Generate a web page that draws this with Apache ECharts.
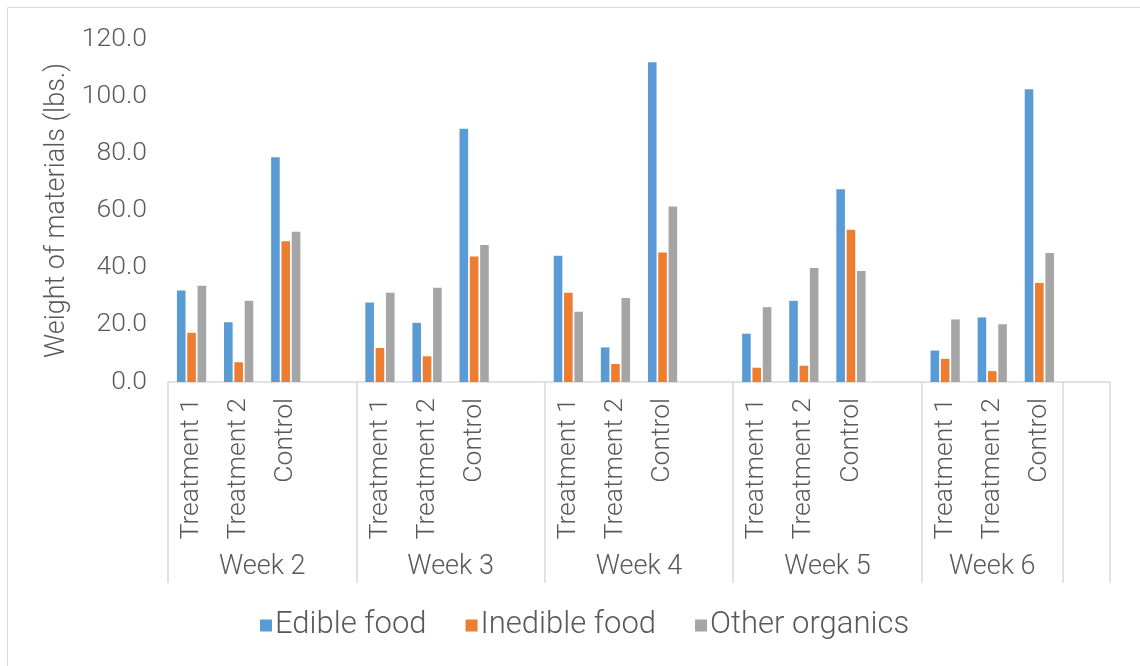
<!DOCTYPE html>
<html>
<head>
<meta charset="utf-8">
<title>Weight of materials by week</title>
<script src="https://cdn.jsdelivr.net/npm/echarts@6/dist/echarts.min.js"></script>
<style>
  html, body { margin: 0; padding: 0; background: #fff; }
  #chart { width: 1140px; height: 666px; }
</style>
</head>
<body>
<div id="chart"></div>
<script>
// Weeks and treatments shown along the two-level category axis
const weeks = ['Week 2', 'Week 3', 'Week 4', 'Week 5', 'Week 6'];
const treatments = ['Treatment 1', 'Treatment 2', 'Control'];

// Weight (lbs.) per week, in order Treatment 1, Treatment 2, Control
const edibleFood = [
  [32.0, 20.9, 78.6],
  [27.8, 20.7, 88.6],
  [44.2, 12.1, 111.9],
  [16.9, 28.4, 67.4],
  [11.0, 22.6, 102.4]
];
const inedibleFood = [
  [17.2, 6.9, 49.2],
  [11.9, 9.0, 43.9],
  [31.2, 6.3, 45.3],
  [5.0, 5.7, 53.3],
  [8.1, 3.8, 34.6]
];
const otherOrganics = [
  [33.7, 28.4, 52.6],
  [31.2, 33.0, 47.9],
  [24.6, 29.4, 61.4],
  [26.2, 39.9, 38.8],
  [21.9, 20.2, 45.1]
];

const yTicks = { min: 0, max: 120, interval: 20 };

// Each week: three treatments followed by an empty spacer slot
const categories = [];
weeks.forEach(() => { treatments.forEach(t => categories.push(t)); categories.push(''); });

function flatten(rows) {
  const out = [];
  rows.forEach(r => { r.forEach(v => out.push(v)); out.push(null); });
  return out;
}

// Group boundaries of the outer (week) level, in slot units
const perWeek = treatments.length + 1;
const bounds = [];
const centers = [];
weeks.forEach((w, i) => {
  const start = i * perWeek;
  const end = i === weeks.length - 1 ? start + treatments.length : start + perWeek;
  bounds.push(start);
  centers.push((start + end) / 2);
  if (i === weeks.length - 1) { bounds.push(end); }
});
bounds.push(categories.length);

const FONT = 'Roboto';
const TEXT = '#595959';
const LINE = '#d9d9d9';

const chart = echarts.init(document.getElementById('chart'), null, { renderer: 'canvas' });

const barStyle = (color) => ({
  type: 'bar',
  barWidth: 8.6,
  barGap: '20%',
  itemStyle: { color: color },
  emphasis: { disabled: true }
});

chart.setOption({
  animation: false,
  backgroundColor: '#ffffff',
  textStyle: { fontFamily: FONT, fontWeight: 300, color: TEXT },
  graphic: [{
    type: 'rect',
    shape: { x: 7.5, y: 7.5, width: 1200, height: 700 },
    style: { fill: null, stroke: LINE, lineWidth: 1 },
    silent: true,
    z: -1
  }],
  grid: { left: 168, right: 30, top: 39, bottom: 284, containLabel: false },
  legend: {
    left: 255,
    top: 605,
    itemWidth: 12,
    itemHeight: 12,
    itemGap: 39,
    icon: 'rect',
    textStyle: { fontFamily: FONT, fontWeight: 300, fontSize: 31, color: TEXT, padding: [0, 0, 0, -2] },
    data: ['Edible food', 'Inedible food', 'Other organics']
  },
  xAxis: [
    {
      type: 'category',
      data: categories,
      boundaryGap: true,
      axisLine: { show: true, lineStyle: { color: LINE, width: 1.5 } },
      axisTick: { show: false },
      axisLabel: {
        interval: 0,
        rotate: 90,
        margin: 16,
        fontFamily: FONT,
        fontWeight: 300,
        fontSize: 26.5,
        color: TEXT
      },
      splitLine: { show: false }
    },
    {
      type: 'value',
      position: 'bottom',
      min: 0,
      max: categories.length,
      axisLine: { show: false },
      axisTick: {
        show: true,
        customValues: bounds,
        length: 201,
        lineStyle: { color: LINE, width: 1.5 }
      },
      axisLabel: {
        show: true,
        customValues: centers,
        margin: 172,
        fontFamily: FONT,
        fontWeight: 300,
        fontSize: 27,
        color: TEXT,
        formatter: (v) => {
          const idx = centers.findIndex(c => Math.abs(c - v) < 1e-6);
          return idx >= 0 ? weeks[idx] : '';
        }
      },
      splitLine: { show: false }
    }
  ],
  yAxis: {
    type: 'value',
    min: yTicks.min,
    max: yTicks.max,
    interval: yTicks.interval,
    name: 'Weight of materials (lbs.)',
    nameLocation: 'middle',
    nameRotate: 90,
    nameGap: 97,
    nameTextStyle: { fontFamily: FONT, fontWeight: 300, fontSize: 27, color: TEXT },
    axisLine: { show: false },
    axisTick: { show: false },
    splitLine: { show: false },
    axisLabel: {
      margin: 21,
      fontFamily: FONT,
      fontWeight: 300,
      fontSize: 26.5,
      color: TEXT,
      formatter: (v) => v.toFixed(1)
    }
  },
  series: [
    Object.assign(barStyle('#5b9bd5'), { name: 'Edible food', data: flatten(edibleFood) }),
    Object.assign(barStyle('#ed7d31'), { name: 'Inedible food', data: flatten(inedibleFood) }),
    Object.assign(barStyle('#a5a5a5'), { name: 'Other organics', data: flatten(otherOrganics) })
  ]
});
</script>
</body>
</html>
